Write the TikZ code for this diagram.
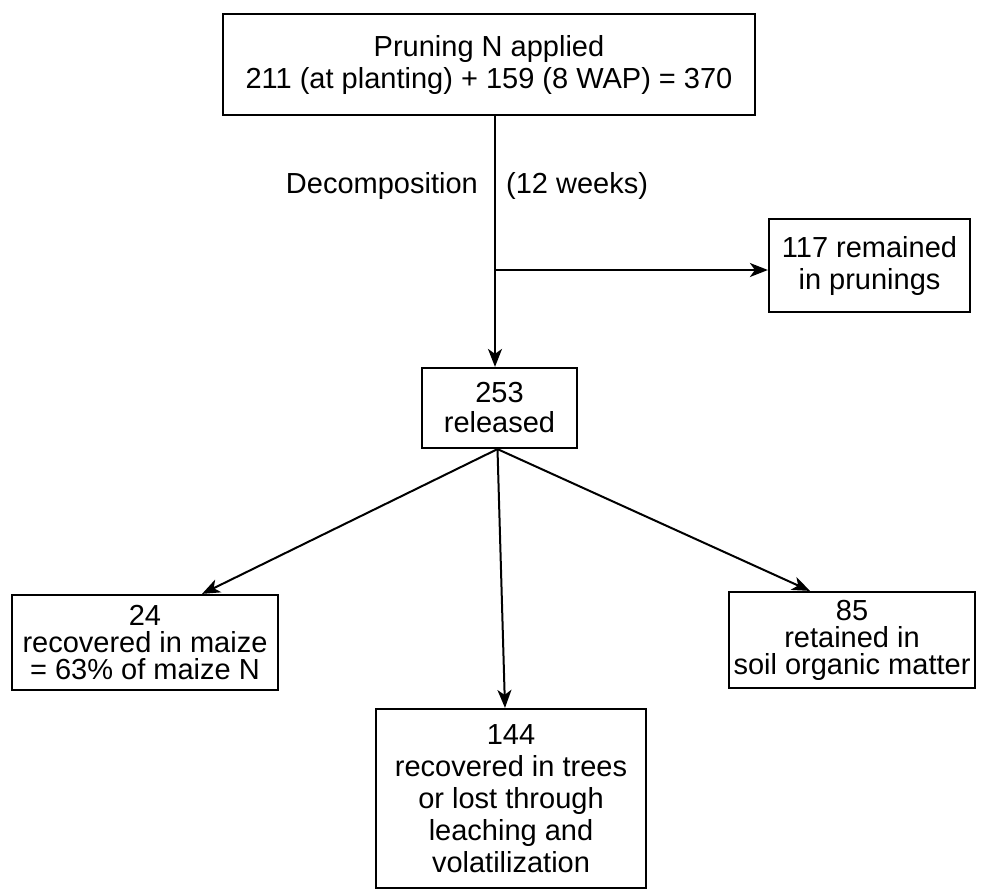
\documentclass[tikz,border=0pt]{standalone}
\usepackage{fontspec}
\setmainfont{Liberation Sans}
\usetikzlibrary{arrows.meta,calc}
\begin{document}
\begin{tikzpicture}[x=1pt,y=-1pt,
  box/.style={draw, line width=2.2pt, align=center, inner sep=0pt, font=\fontsize{29}{32}\selectfont},
  lbl/.style={inner sep=0pt, font=\fontsize{29}{32}\selectfont},
  arr/.style={line width=2pt, -{Stealth[length=18pt,width=14pt,inset=5pt]}},
  ln/.style={line width=2pt}]
\fill[white] (0,0) rectangle (983,892);
\useasboundingbox (0,0) rectangle (983,892);
% boxes
\node[box, minimum width=532, minimum height=101] (top) at (489,64.5)
  {Pruning N applied\\211 (at planting) + 159 (8 WAP) = 370};
\node[box, minimum width=201, minimum height=93] (rem) at (869.5,265.5)
  {117 remained\\in prunings};
\node[box, minimum width=155, minimum height=80, font=\fontsize{29}{30}\selectfont] (rel) at (499.5,408)
  {253\\released};
\node[box, minimum width=266, minimum height=95, font=\fontsize{29}{27}\selectfont] (maize) at (145,642.5)
  {24\\recovered in maize\\= 63\% of maize N};
\node[box, minimum width=246, minimum height=96, font=\fontsize{29}{27}\selectfont] (soil) at (852,640)
  {85\\retained in\\soil organic matter};
\node[box, minimum width=270, minimum height=179] (trees) at (511,798.5)
  {144\\recovered in trees\\or lost through\\leaching and\\volatilization};
% labels
\node[lbl, anchor=east] (dec) at (478,186) {Decomposition};
\node[lbl, anchor=west] (wk) at (506,186) {(12 weeks)};
% connectors
\coordinate (split) at (495,270);
\draw[ln] (split |- top.south) -- (split);
\draw[arr] (split) -- (split |- rel.north);
\draw[arr] (split) -- (rem.west |- split);
\coordinate (o) at ($(rel.south)+(-2,0)$);
\draw[arr] (o) -- ($(maize.north)+(57,0)$);
\draw[arr] (o) -- ($(trees.north)+(-6,0)$);
\draw[arr] (o) -- ($(soil.north)+(-42,0)$);
\end{tikzpicture}
\end{document}
